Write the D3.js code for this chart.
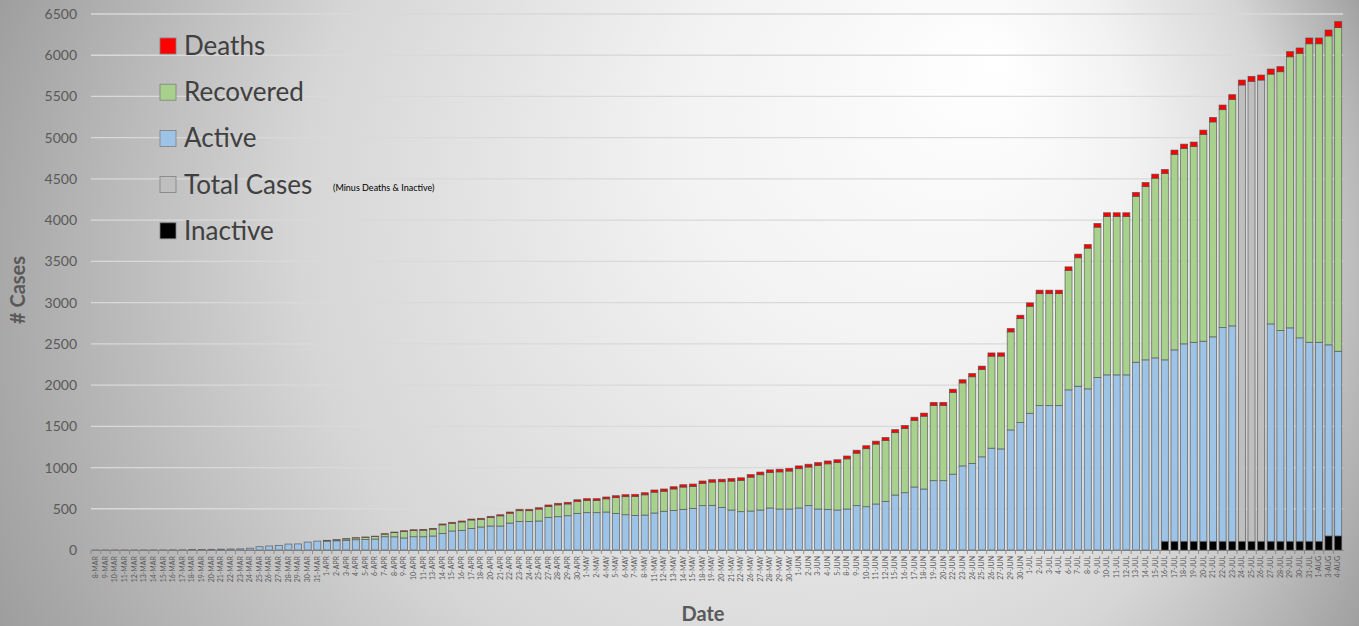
<!DOCTYPE html>
<html>
<head>
<meta charset="utf-8">
<script src="https://cdn.jsdelivr.net/npm/d3@7"></script>
<style>
  html, body { margin: 0; padding: 0; background: #fff; }
  svg { display: block; }
</style>
</head>
<body>
<svg id="chart" width="1359" height="626"></svg>
<script>
// ---------- DATA ----------
const dates = [
  "8-MAR","9-MAR","10-MAR","11-MAR","12-MAR","13-MAR","14-MAR","15-MAR","16-MAR","17-MAR","18-MAR","19-MAR",
  "20-MAR","21-MAR","22-MAR","23-MAR","24-MAR","25-MAR","26-MAR","27-MAR","28-MAR","29-MAR","30-MAR","31-MAR",
  "1-APR","2-APR","3-APR","4-APR","5-APR","6-APR","7-APR","8-APR","9-APR","10-APR","11-APR","13-APR","14-APR",
  "15-APR","16-APR","17-APR","18-APR","20-APR","21-APR","22-APR","23-APR","24-APR","25-APR","27-APR","28-APR",
  "29-APR","30-APR",
  "1-MAY","2-MAY","4-MAY","5-MAY","6-MAY","7-MAY","8-MAY","11-MAY","12-MAY","13-MAY","14-MAY","15-MAY","18-MAY",
  "19-MAY","20-MAY","21-MAY","22-MAY","26-MAY","27-MAY","28-MAY","29-MAY","30-MAY",
  "1-JUN","2-JUN","3-JUN","4-JUN","5-JUN","8-JUN","9-JUN","10-JUN","11-JUN","12-JUN","15-JUN","16-JUN","17-JUN",
  "18-JUN","19-JUN","20-JUN","22-JUN","23-JUN","24-JUN","25-JUN","26-JUN","27-JUN","29-JUN","30-JUN",
  "1-JUL","2-JUL","3-JUL","4-JUL","6-JUL","7-JUL","8-JUL","9-JUL","10-JUL","11-JUL","12-JUL","13-JUL","14-JUL",
  "15-JUL","16-JUL","17-JUL","18-JUL","19-JUL","20-JUL","21-JUL","22-JUL","23-JUL","24-JUL","25-JUL","26-JUL",
  "27-JUL","28-JUL","29-JUL","30-JUL","31-JUL",
  "1-AUG","3-AUG","4-AUG"
];

const inactive = [
  0,0,0,0,0,0,0,0,0,0,0,0,0,0,0,0,0,0,0,0,0,0,0,0,
  0,0,0,0,0,0,0,0,0,0,0,0,0,0,0,0,0,0,0,0,0,0,0,0,0,0,0,
  0,0,0,0,0,0,0,0,0,0,0,0,0,0,0,0,0,0,0,0,0,0,
  0,0,0,0,0,0,0,0,0,0,0,0,0,0,0,0,0,0,0,0,0,0,0,0,
  0,0,0,0,0,0,0,0,0,0,0,0,0,0,105,105,105,105,105,105,105,105,105,105,105,105,105,105,105,105,
  105,170,170
];

const active = [
  1,1,1,1,1,2,2,2,3,3,5,6,8,10,12,14,22,40,48,56,72,74,96,108,
  108,112,118,125,127,133,161,160,146,161,161,170,201,231,238,262,279,291,291,327,347,347,352,396,404,416,444,
  453,453,461,444,428,420,424,449,470,480,493,505,538,542,517,485,465,473,485,510,497,497,
  510,538,497,493,485,497,538,525,558,590,667,695,764,740,841,841,920,1020,1050,1130,1235,1226,1456,1545,
  1658,1751,1751,1751,1942,1986,1954,2091,2124,2124,2124,2277,2306,2330,2201,2322,2395,2414,2427,2480,2593,2613,0,0,0,2637,2556,2589,2468,2414,
  2414,2318,2240
];

const totalCases = [
  0,0,0,0,0,0,0,0,0,0,0,0,0,0,0,0,0,0,0,0,0,0,0,0,
  0,0,0,0,0,0,0,0,0,0,0,0,0,0,0,0,0,0,0,0,0,0,0,0,0,0,0,
  0,0,0,0,0,0,0,0,0,0,0,0,0,0,0,0,0,0,0,0,0,0,
  0,0,0,0,0,0,0,0,0,0,0,0,0,0,0,0,0,0,0,0,0,0,0,0,
  0,0,0,0,0,0,0,0,0,0,0,0,0,0,0,0,0,0,0,0,0,0,5534,5579,5594,0,0,0,0,0,
  0,0,0
];

const recovered = [
  0,0,0,0,0,0,0,0,0,0,0,0,0,0,0,0,0,0,0,0,0,0,0,0,
  7,11,16,21,27,30,31,51,79,75,79,82,104,93,102,102,93,104,123,119,130,130,144,132,143,142,145,
  148,148,159,191,219,230,245,252,242,260,270,266,269,281,311,350,380,410,428,429,450,460,
  476,468,529,552,575,608,636,704,726,738,756,778,808,882,911,911,991,1006,1051,1060,1115,1125,1189,1261,
  1297,1358,1358,1358,1449,1558,1706,1824,1920,1920,1920,2012,2103,2179,2259,2371,2369,2375,2506,2606,2642,2747,0,0,0,3029,3139,3287,3450,3620,
  3620,3746,3925
];

const deaths = [
  0,0,0,0,0,0,0,0,0,0,0,0,0,0,0,0,0,0,0,0,0,0,0,0,
  2,2,3,3,4,5,6,7,9,10,10,10,11,11,12,12,12,13,14,15,16,16,17,18,19,20,21,
  22,22,23,24,24,25,26,27,28,28,29,29,30,30,30,31,31,32,32,33,33,33,
  34,34,34,35,35,35,36,36,36,37,37,37,38,38,38,38,39,39,39,40,40,40,41,41,
  42,42,42,42,43,44,45,45,46,46,46,47,48,49,50,52,53,53,54,55,56,57,60,60,61,62,62,63,65,70,
  70,72,73
];

const yTicks = [0,500,1000,1500,2000,2500,3000,3500,4000,4500,5000,5500,6000,6500];

const seriesKeys   = ["inactive","active","totalCases","recovered","deaths"];
const seriesColors = {inactive:"#000000", active:"#9dc3e6", totalCases:"#bfbfbf", recovered:"#a9d18e", deaths:"#ff0000"};
const legendItems = [
  {key:"deaths", label:"Deaths"},
  {key:"recovered", label:"Recovered"},
  {key:"active", label:"Active"},
  {key:"totalCases", label:"Total Cases", note:"(Minus Deaths & Inactive)"},
  {key:"inactive", label:"Inactive"}
];

// ---------- BUILD ----------
const rows = dates.map((d,i) => ({date:d, inactive:inactive[i], active:active[i], totalCases:totalCases[i], recovered:recovered[i], deaths:deaths[i]}));

const W = 1359, H = 626;
const FONT = "Lato, 'Open Sans', sans-serif";
const svg = d3.select("#chart");
const defs = svg.append("defs");
const grad = defs.append("radialGradient")
  .attr("id","bg").attr("gradientUnits","userSpaceOnUse")
  .attr("cx",680).attr("cy",313).attr("r",760)
  .attr("fx",1000).attr("fy",60);
[[0,"#ffffff"],[0.3,"#f2f2f2"],[0.65,"#d6d6d6"],[1,"#9c9c9c"]].forEach(s=>
  grad.append("stop").attr("offset",s[0]).attr("stop-color",s[1]));
svg.append("rect").attr("width",W).attr("height",H).attr("fill","url(#bg)");

const x = d3.scaleBand().domain(dates).range([91,1343]).paddingInner(0.27).paddingOuter(0.135);
const y = d3.scaleLinear().domain([0,6500]).range([550,14]);

// gridlines
svg.append("g").selectAll("line").data(yTicks.filter(t=>t>0)).join("line")
  .attr("x1",91).attr("x2",1343)
  .attr("y1",d=>y(d)).attr("y2",d=>y(d))
  .attr("stroke","#d9d9d9").attr("stroke-width",1.3);

// y axis labels
const yAxis = d3.axisLeft(y).tickValues(yTicks).tickFormat(d3.format("d")).tickSize(0).tickPadding(0);
const gy = svg.append("g").attr("transform","translate(77,0)").call(yAxis);
gy.select(".domain").remove();
gy.selectAll("text").attr("font-family",FONT).attr("font-size",14).attr("fill","#595959");

// bars
const stack = d3.stack().keys(seriesKeys);
const stacked = stack(rows);
const gBars = svg.append("g");
stacked.forEach(layer => {
  gBars.append("g").attr("fill", seriesColors[layer.key])
    .selectAll("rect").data(layer.filter(d => d[1]-d[0] > 0)).join("rect")
    .attr("x", d => x(d.data.date))
    .attr("width", x.bandwidth())
    .attr("y", d => y(d[1]))
    .attr("height", d => y(d[0]) - y(d[1]))
    .attr("stroke","#4d4d4d").attr("stroke-width",0.8).attr("stroke-opacity",0.75);
});

// x axis
const xAxis = d3.axisBottom(x).tickSize(0).tickPadding(0);
const gx = svg.append("g").attr("transform","translate(0,550)").call(xAxis);
gx.select(".domain").attr("stroke","#7f7f7f").attr("stroke-width",1.2);
gx.selectAll("text")
  .attr("font-family",FONT).attr("font-size",7).attr("fill","#595959")
  .attr("text-anchor","end").attr("dy","0.33em")
  .attr("transform","translate(0,6) rotate(-90)");
// category separator ticks
svg.append("g").selectAll("line").data(dates).join("line")
  .attr("x1",d=>x(d)-x.step()*x.paddingInner()/2).attr("x2",d=>x(d)-x.step()*x.paddingInner()/2)
  .attr("y1",550).attr("y2",554).attr("stroke","#7f7f7f").attr("stroke-width",0.8);

// axis titles
svg.append("text").attr("transform","translate(25,290) rotate(-90)")
  .attr("text-anchor","middle").attr("font-family",FONT)
  .attr("font-weight","bold").attr("font-size",20).attr("fill","#595959").text("# Cases");
svg.append("text").attr("x",703).attr("y",621)
  .attr("text-anchor","middle").attr("font-family",FONT)
  .attr("font-weight","bold").attr("font-size",20).attr("fill","#595959").text("Date");

// legend
const lg = svg.append("g");
legendItems.forEach((it,i) => {
  const cy = 46 + i*46.2;
  lg.append("rect").attr("x",160).attr("y",cy-8).attr("width",16).attr("height",16)
    .attr("fill",seriesColors[it.key]).attr("stroke","#7f7f7f").attr("stroke-width",0.8);
  lg.append("text").attr("x",184).attr("y",cy+9)
    .attr("font-family",FONT).attr("font-size",26).attr("fill","#404040")
    .text(it.label);
  if (it.note) {
    lg.append("text").attr("x",333).attr("y",cy+6)
      .attr("font-family",FONT).attr("font-size",9).attr("fill","#000")
      .text(it.note);
  }
});
</script>
</body>
</html>
